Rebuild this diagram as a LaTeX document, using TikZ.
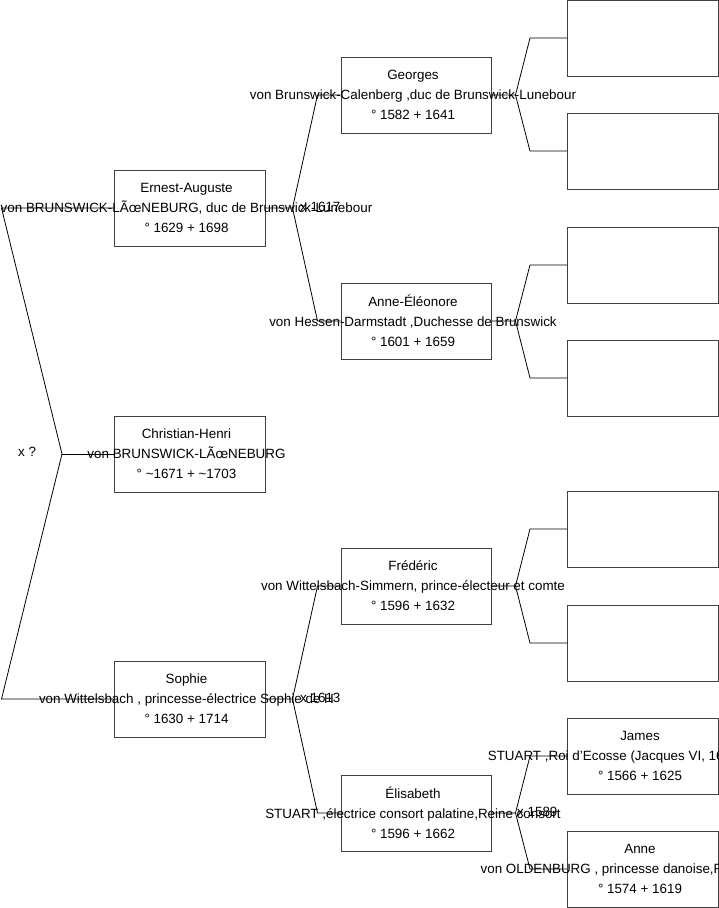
\documentclass[tikz,border=0pt]{standalone}
\usepackage{fontspec}
\setmainfont{Liberation Sans}
\usetikzlibrary{calc}
\definecolor{boxgray}{RGB}{64,64,64}
\tikzset{
  box/.style={draw=boxgray, line width=1pt, minimum width=151pt, minimum height=76pt,
              inner sep=0pt, align=center, font=\fontsize{13.4}{20}\selectfont},
  midbox/.style={box, minimum width=150pt},
  link/.style={draw=black, line width=0.8pt},
  mlabel/.style={anchor=west, inner sep=0pt, font=\fontsize{13.4}{15}\selectfont},
}
\newcommand\ctr[1]{\makebox[0pt]{#1\hspace{6pt}}}
\begin{document}
\begin{tikzpicture}[x=1pt,y=-1pt]
\useasboundingbox (0,0) rectangle (719,908);

% level 1
\node[box] (ea) at (189.5,208) {\ctr{Ernest-Auguste}\\\ctr{von BRUNSWICK-LÃœNEBURG, duc de Brunswick-Lunebour}\\\ctr{° 1629 + 1698}};
\node[box] (ch) at (189.5,454) {\ctr{Christian-Henri}\\\ctr{von BRUNSWICK-LÃœNEBURG}\\\ctr{° \textasciitilde 1671 + \textasciitilde 1703}};
\node[box] (so) at (189.5,699) {\ctr{Sophie}\\\ctr{von Wittelsbach , princesse-électrice Sophie de H}\\\ctr{° 1630 + 1714}};

% level 2
\node[midbox] (ge) at (416,95) {\ctr{Georges}\\\ctr{von Brunswick-Calenberg ,duc de Brunswick-Lunebour}\\\ctr{° 1582 + 1641}};
\node[midbox] (ae) at (416,321) {\ctr{Anne-Éléonore}\\\ctr{von Hessen-Darmstadt ,Duchesse de Brunswick}\\\ctr{° 1601 + 1659}};
\node[midbox] (fr) at (416,586) {\ctr{Frédéric}\\\ctr{von Wittelsbach-Simmern, prince-électeur et comte}\\\ctr{° 1596 + 1632}};
\node[midbox] (el) at (416,813) {\ctr{Élisabeth}\\\ctr{STUART ,électrice consort palatine,Reine consort}\\\ctr{° 1596 + 1662}};

% level 3
\node[box] (g1) at (643,38) {};
\node[box] (g2) at (643,151) {};
\node[box] (a1) at (643,265) {};
\node[box] (a2) at (643,378) {};
\node[box] (f1) at (643,529) {};
\node[box] (f2) at (643,643) {};
\node[box] (ja) at (643,756) {\ctr{James}\\\ctr{STUART ,Roi d'Ecosse (Jacques VI, 1603-1625) et}\\\ctr{° 1566 + 1625}};
\node[box] (an) at (643,869) {\ctr{Anne}\\\ctr{von OLDENBURG , princesse danoise,Reine d'Ecoss}\\\ctr{° 1574 + 1619}};

% root junction
\coordinate (root) at (62,454);
\draw[link] (root) -- ([xshift=-112pt]ea.west) -- (ea.west);
\draw[link] (root) -- (ch.west);
\draw[link] (root) -- ([xshift=-112pt]so.west) -- (so.west);

% level 1 -> 2
\foreach \p/\a/\b in {ea/ge/ae, so/fr/el}{
  \draw[link] (\p.east) -- ++(27,0) coordinate (j\p) -- ([xshift=-23pt]\a.west) -- (\a.west);
  \draw[link] (j\p) -- ([xshift=-23pt]\b.west) -- (\b.west);
}
% level 2 -> 3
\foreach \p/\a/\b in {ge/g1/g2, ae/a1/a2, fr/f1/f2, el/ja/an}{
  \draw[link] (\p.east) -- ++(24,0) coordinate (j\p) -- ([xshift=-37pt]\a.west) -- (\a.west);
  \draw[link] (j\p) -- ([xshift=-37pt]\b.west) -- (\b.west);
}

% marriage labels
\node[mlabel] (m0) at (18,452) {x ?};
\node[mlabel] (m1) at (300,207) {x 1617};
\node[mlabel] (m2) at (300,698) {x 1613};
\node[mlabel] (m3) at (517,812) {x 1589};
\end{tikzpicture}
\end{document}
